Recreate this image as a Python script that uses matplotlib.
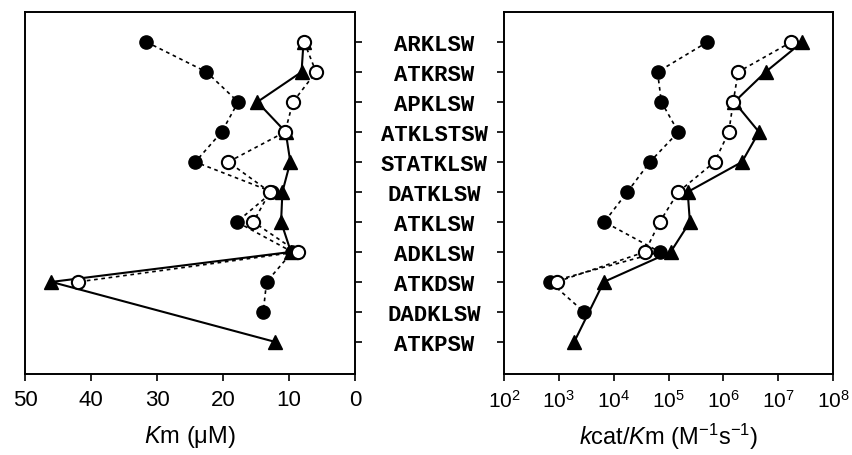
import numpy as np
import matplotlib.pyplot as plt

plt.rcParams['font.family'] = ['Liberation Sans', 'DejaVu Sans']
plt.rcParams['mathtext.fontset'] = 'custom'
plt.rcParams['mathtext.rm'] = 'Liberation Sans'
plt.rcParams['mathtext.it'] = 'Liberation Sans:italic'

# peptide substrates, top to bottom
peptides = ['ARKLSW', 'ATKRSW', 'APKLSW', 'ATKLSTSW', 'STATKLSW', 'DATKLSW',
            'ATKLSW', 'ADKLSW', 'ATKDSW', 'DADKLSW', 'ATKPSW']

nan = np.nan
# Km (uM)
km_filled = [31.6, 22.5, 17.7, 20.2, 24.2, 12.5, 17.9, 9.5, 13.4, 13.9, nan]
km_open = [7.7, 5.9, 9.4, 10.6, 19.2, 12.9, 15.4, 8.7, 42.0, nan, nan]
km_tri = [7.8, 8.1, 14.8, 10.5, 9.8, 11.0, 11.2, 9.7, 46.0, nan, 12.1]

# log10 of kcat/Km (M-1 s-1)
eff_filled = [5.71, 4.80, 4.87, 5.18, 4.66, 4.25, 3.83, 4.84, 2.84, 3.46, nan]
eff_open = [7.24, 6.27, 6.18, 6.10, 5.84, 5.18, 4.84, 4.57, 2.96, nan, nan]
eff_tri = [7.44, 6.77, 6.20, 6.65, 6.34, 5.35, 5.39, 5.04, 3.82, nan, 3.28]

rows = np.arange(len(peptides))
dotted = (0, (2.2, 2.2))


def draw(ax, filled, opened, tri, scale=None):
    for vals, style in [(filled, dict(ls=dotted, lw=1.2, marker='o', mfc='black', ms=9.5)),
                        (tri, dict(ls='-', lw=1.5, marker='^', mfc='black', ms=9.5)),
                        (opened, dict(ls=dotted, lw=1.2, marker='o', mfc='white', ms=9.5, mew=1.5))]:
        v = np.array(vals, dtype=float)
        ok = ~np.isnan(v)
        x = v[ok] if scale is None else 10 ** v[ok]
        ax.plot(x, rows[ok], color='black', mec='black', **style)


fig = plt.figure(figsize=(8.52, 4.56), dpi=100)
ax1 = fig.add_axes([25 / 852, 81 / 456, 330 / 852, 362 / 456])
ax2 = fig.add_axes([504 / 852, 81 / 456, 329 / 852, 362 / 456])

draw(ax1, km_filled, km_open, km_tri)
draw(ax2, eff_filled, eff_open, eff_tri, scale='log')

for ax in (ax1, ax2):
    ax.set_ylim(10 + 1.07, -1.0)
    ax.set_yticks(rows)
    for s in ax.spines.values():
        s.set_linewidth(1.4)
    ax.tick_params(axis='both', direction='out', length=5, width=1.2)
    ax.tick_params(axis='x', pad=6)

ax1.set_xlim(50, 0)
ax1.set_xticks([50, 40, 30, 20, 10, 0])
ax1.tick_params(axis='x', labelsize=16)
ax1.yaxis.tick_right()
ax1.set_yticklabels(peptides, ha='center', fontsize=16, fontweight='bold',
                    family=['Liberation Mono', 'DejaVu Sans Mono'])
ax1.tick_params(axis='y', pad=52)
ax1.set_xlabel(r'$\it{K}$m (μM)', fontsize=17, labelpad=9)

ax2.set_xscale('log')
ax2.set_xlim(1e2, 1e8)
ax2.set_xticks([10 ** k for k in range(2, 9)])
ax2.set_xticklabels([r'10$^{%d}$' % k for k in range(2, 9)])
ax2.tick_params(axis='x', labelsize=15)
ax2.minorticks_off()
ax2.set_yticklabels([])
ax2.set_xlabel(r'$\it{k}$cat/$\it{K}$m (M$^{\mathrm{-1}}$s$^{\mathrm{-1}}$)', fontsize=17, labelpad=7)

fig.savefig('out.png', dpi=100)
